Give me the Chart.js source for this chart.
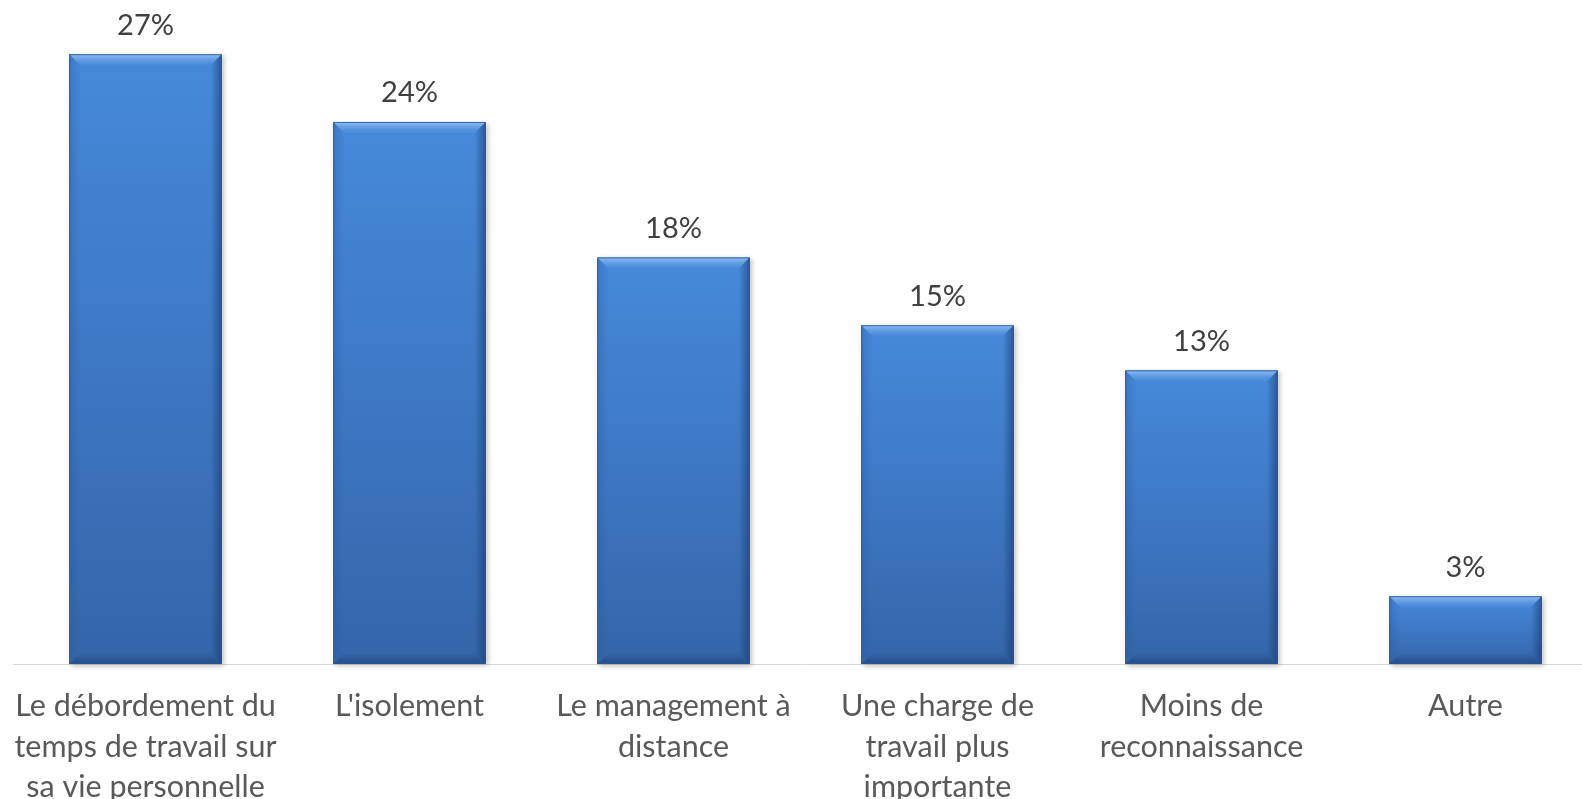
<!DOCTYPE html>
<html>
<head>
<meta charset="utf-8">
<script src="https://cdn.jsdelivr.net/npm/chart.js@4"></script>
<style>
html,body{margin:0;padding:0;background:#fff;overflow:hidden;}
#wrap{position:absolute;left:0;top:0;width:1600px;height:799px;}
</style>
</head>
<body>
<div id="wrap"><canvas id="c"></canvas></div>
<script>
const categories = [
  ["Le débordement du", "temps de travail sur", "sa vie personnelle"],
  ["L'isolement"],
  ["Le management à", "distance"],
  ["Une charge de", "travail plus", "importante"],
  ["Moins de", "reconnaissance"],
  ["Autre"]
];
const values = [27, 24, 18, 15, 13, 3];
const valueLabels = ["27%", "24%", "18%", "15%", "13%", "3%"];

const FONT = "Lato, 'Open Sans', sans-serif";

function barGradient(ctx) {
  const chart = ctx.chart;
  const ys = chart.scales.y;
  if (!chart.chartArea || !ys || !ctx.parsed) return '#3d78c4';
  const top = ys.getPixelForValue(ctx.parsed.y);
  const base = ys.getPixelForValue(0);
  if (!isFinite(top) || !isFinite(base) || top === base) return '#3d78c4';
  const g = chart.ctx.createLinearGradient(0, top, 0, base);
  g.addColorStop(0, '#4689da');
  g.addColorStop(0.5, '#3d78c4');
  g.addColorStop(1, '#3465a8');
  return g;
}

const shadowPlugin = {
  id: 'shadow',
  beforeDatasetsDraw(chart) {
    const c = chart.ctx;
    const meta = chart.getDatasetMeta(0);
    c.save();
    meta.data.forEach(el => {
      const l = el.x - el.width / 2, r = el.x + el.width / 2;
      c.shadowColor = 'rgba(0,0,0,0.25)';
      c.shadowBlur = 5;
      c.shadowOffsetX = 2;
      c.shadowOffsetY = 2;
      c.fillStyle = '#3465a8';
      c.fillRect(l, el.y, r - l, el.base - el.y);
    });
    c.restore();
  }
};

const bevelPlugin = {
  id: 'bevel',
  afterDatasetsDraw(chart) {
    const c = chart.ctx;
    const meta = chart.getDatasetMeta(0);
    c.save();
    meta.data.forEach(el => {
      const l = el.x - el.width / 2, r = el.x + el.width / 2;
      const t = el.y, b = el.base;
      const s = 11;
      let g = c.createLinearGradient(0, t, 0, t + s);
      g.addColorStop(0, 'rgba(150,195,245,0.95)');
      g.addColorStop(1, 'rgba(90,150,225,0.2)');
      c.fillStyle = g;
      c.beginPath();
      c.moveTo(l, t); c.lineTo(r, t); c.lineTo(r - s, t + s); c.lineTo(l + s, t + s); c.closePath();
      c.fill();
      g = c.createLinearGradient(l, 0, l + s, 0);
      g.addColorStop(0, 'rgba(40,90,160,0.35)');
      g.addColorStop(1, 'rgba(40,90,160,0)');
      c.fillStyle = g;
      c.beginPath();
      c.moveTo(l, t); c.lineTo(l + s, t + s); c.lineTo(l + s, b - s); c.lineTo(l, b); c.closePath();
      c.fill();
      g = c.createLinearGradient(r, 0, r - s, 0);
      g.addColorStop(0, 'rgba(20,50,100,0.55)');
      g.addColorStop(1, 'rgba(20,50,100,0)');
      c.fillStyle = g;
      c.beginPath();
      c.moveTo(r, t); c.lineTo(r - s, t + s); c.lineTo(r - s, b - s); c.lineTo(r, b); c.closePath();
      c.fill();
      g = c.createLinearGradient(0, b, 0, b - s);
      g.addColorStop(0, 'rgba(20,50,100,0.45)');
      g.addColorStop(1, 'rgba(20,50,100,0)');
      c.fillStyle = g;
      c.beginPath();
      c.moveTo(l, b); c.lineTo(r, b); c.lineTo(r - s, b - s); c.lineTo(l + s, b - s); c.closePath();
      c.fill();
      c.strokeStyle = 'rgba(40,85,150,0.8)';
      c.lineWidth = 1;
      c.strokeRect(l + 0.5, t + 0.5, r - l - 1, b - t - 1);
    });
    c.restore();
  }
};

const labelPlugin = {
  id: 'vlabels',
  afterDatasetsDraw(chart) {
    const c = chart.ctx;
    const meta = chart.getDatasetMeta(0);
    c.save();
    c.font = '29px ' + FONT;
    c.fillStyle = '#404040';
    c.textAlign = 'center';
    c.textBaseline = 'middle';
    meta.data.forEach((el, i) => {
      c.fillText(valueLabels[i], el.x, el.y - 29);
    });
    c.restore();
  }
};

new Chart(document.getElementById('c'), {
  type: 'bar',
  data: {
    labels: categories,
    datasets: [{
      data: values,
      backgroundColor: barGradient,
      borderWidth: 0,
      categoryPercentage: 1.0,
      barPercentage: 0.577
    }]
  },
  options: {
    responsive: true,
    maintainAspectRatio: false,
    animation: false,
    layout: { padding: { left: 13.5, right: 2.5, top: 0, bottom: 0 } },
    plugins: { legend: { display: false }, tooltip: { enabled: false } },
    scales: {
      y: { display: false, min: 0, max: 29.4 },
      x: {
        grid: { display: false, drawTicks: false },
        border: { display: true, color: '#d9d9d9', width: 1 },
        ticks: {
          color: '#595959',
          font: { family: FONT, size: 30.5, lineHeight: 1.33 },
          padding: 22,
          maxRotation: 0,
          autoSkip: false
        },
        afterFit(s) { s.height = 135; s.paddingLeft = 0; s.paddingRight = 0; }
      }
    }
  },
  plugins: [shadowPlugin, bevelPlugin, labelPlugin]
});
</script>
</body>
</html>
